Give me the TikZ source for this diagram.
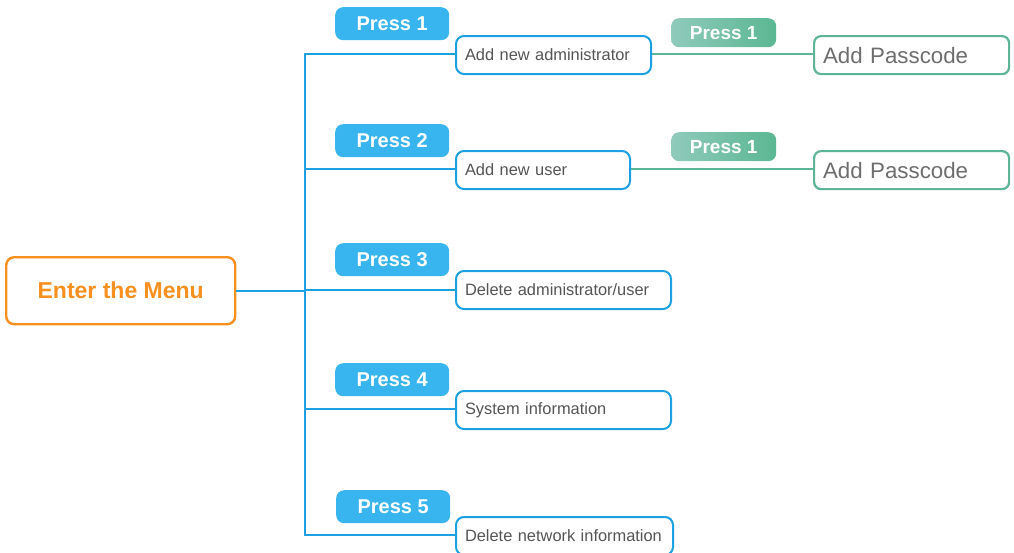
\documentclass[tikz,border=0pt]{standalone}
\usepackage{fontspec}
\setmainfont{Liberation Sans}
\definecolor{orng}{HTML}{F7901E}
\definecolor{blueline}{HTML}{1BA1E2}
\definecolor{bluepill}{HTML}{38B5EE}
\definecolor{greenA}{HTML}{8FCABB}
\definecolor{greenB}{HTML}{5BB793}
\definecolor{greenline}{HTML}{5DB595}
\definecolor{txt}{HTML}{555555}
\begin{document}
\begin{tikzpicture}[x=1pt,y=-1pt,
  menubox/.style={draw=orng,line width=2.4pt,rounded corners=8pt,fill=white,
    minimum width=229pt,minimum height=67pt,anchor=north west,
    text=orng,font=\fontsize{23}{26}\selectfont\bfseries},
  optbox/.style={draw=blueline,line width=2pt,rounded corners=8pt,fill=white,
    minimum height=38pt,anchor=north west,inner xsep=9pt,
    text width=#1-18pt,align=left,text=txt,font=\fontsize{16.4}{19}\selectfont},
  passbox/.style={draw=greenline,line width=2.2pt,rounded corners=7pt,fill=white,
    minimum height=38pt,anchor=north west,inner xsep=9pt,
    text width=#1-18pt,align=left,text=txt!85,font=\fontsize{22.3}{25}\selectfont},
  bpill/.style={fill=bluepill,rounded corners=8pt,minimum width=114pt,minimum height=33pt,
    anchor=north west,text=white,font=\fontsize{20}{22}\selectfont\bfseries},
  gpill/.style={left color=greenA,right color=greenB,rounded corners=8pt,minimum width=105pt,
    minimum height=29pt,anchor=north west,text=white,font=\fontsize{19}{22}\selectfont\bfseries},
  bl/.style={draw=blueline,line width=2.2pt},
  gl/.style={draw=greenline,line width=2.4pt}]
\useasboundingbox (0,0) rectangle (1014,552);

% trunk junctions
\coordinate (j1) at (305,54);
\coordinate (j2) at (305,169);
\coordinate (j3) at (305,290);
\coordinate (j4) at (305,409);
\coordinate (j5) at (305,535);

\node[menubox] (menu) at (5,256) {Enter the Menu};

\node[bpill] (p1) at (335,7) {Press 1};
\node[bpill] (p2) at (335,124) {Press 2};
\node[bpill] (p3) at (335,243) {Press 3};
\node[bpill] (p4) at (335,363) {Press 4};
\node[bpill] (p5) at (336,490) {Press 5};

\node[gpill] (g1) at (671,18) {Press 1};
\node[gpill] (g2) at (671,132) {Press 1};

% connectors (drawn before boxes)
\draw[bl] (menu.east) -- (menu.east -| j3);
\draw[bl] (455,54) -- (j1) -- (j5) -- (455,535);
\draw[bl] (455,169) -- (j2);
\draw[bl] (455,290) -- (j3);
\draw[bl] (455,409) -- (j4);
\draw[gl] (650,54) -- (813,54);
\draw[gl] (629,169) -- (813,169);

\node[optbox=195pt] (b1) at (455,35) {Add new administrator};
\node[optbox=174pt] (b2) at (455,150) {Add new user};
\node[optbox=215pt] (b3) at (455,270) {Delete administrator/user};
\node[optbox=215pt] (b4) at (455,390) {System information};
\node[optbox=217pt] (b5) at (455,516) {Delete network information};

\node[passbox=195pt] (a1) at (813,35) {Add Passcode};
\node[passbox=195pt] (a2) at (813,150) {Add Passcode};
\end{tikzpicture}
\end{document}
